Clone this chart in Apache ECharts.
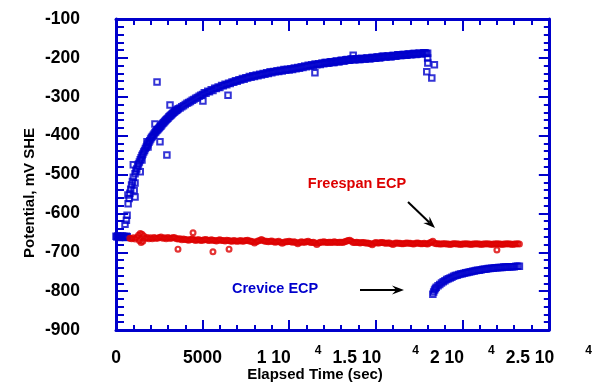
<!DOCTYPE html>
<html>
<head>
<meta charset="utf-8">
<script src="https://cdn.jsdelivr.net/npm/echarts@6/dist/echarts.min.js"></script>
<style>
html,body{margin:0;padding:0;background:#fff;}
#chart{width:595px;height:388px;}
</style>
</head>
<body>
<div id="chart"></div>
<script>
// ---------- data ----------
const xTickValues   = [0, 5000, 10000, 15000, 20000, 25000];
const xTickMantissa = ['0', '5000', '1 10', '1.5 10', '2 10', '2.5 10'];
const xTickExponent = ['', '', '4', '4', '4', '4'];

// Crevice ECP, first run [time s, potential mV SHE]
const creviceUpper = [
  [0,-659],[50,-661],[100,-658],[150,-660],[200,-662],[250,-659],[300,-660],[350,-658],[400,-661],[450,-659],[500,-660],[550,-662],[600,-659],[650,-660],
  [520,-628],[600,-618],[640,-605],[690,-553],[700,-575],[760,-562],[800,-548],[850,-538],[900,-527],[950,-518],[1000,-507],[1050,-541],[1100,-498],[1100,-558],[1100,-522],
  [1150,-491],[1200,-486],[1250,-479],[1300,-473],[1350,-468],[1400,-462],[1400,-493],[1450,-457],[1500,-451],[1500,-463],[1550,-447],[1600,-442],[1650,-438],[1700,-433],
  [1750,-429],[1790,-416],[1800,-425],[1850,-421],[1850,-429],[1900,-417],[1950,-413],[2000,-409],[2050,-405],[2100,-402],[2150,-399],[2200,-396],[2250,-392],[2300,-390],
  [2350,-387],[2400,-385],[2450,-382],[2500,-380],[2550,-377],[2600,-375],[2650,-372],[2700,-369],[2750,-367],[2800,-364],[2850,-362],[2900,-359],[2950,-357],[3000,-355],
  [3050,-352],[3100,-350],[3150,-348],[3200,-346],[3250,-344],[3300,-342],[3350,-340],[3400,-338],[3450,-336],[3500,-335],[3550,-333],[3600,-331],[3700,-329],[3800,-326],
  [3900,-323],[4000,-320],[4100,-317],[4200,-315],[4300,-312],[4400,-309],[4500,-307],[4600,-304],[4700,-302],[4800,-299],[4900,-296],[5000,-294],
  [5100,-290],[5200,-291],[5300,-286],[5400,-287],[5500,-282],[5600,-284],[5700,-278],[5800,-279],[5900,-275],[6000,-276],[6100,-271],[6200,-272],[6300,-268],[6400,-269],
  [6500,-265],[6600,-266],[6700,-262],[6800,-263],[6900,-259],[7000,-260],[7100,-256],[7200,-257],[7300,-253],[7400,-255],[7500,-251],[7600,-252],[7700,-248],[7800,-250],
  [7900,-246],[8000,-248],[8100,-244],[8200,-246],[8300,-242],[8400,-244],[8500,-240],[8600,-242],[8700,-238],[8800,-240],[8900,-236],[9000,-238],[9100,-235],[9200,-236],
  [9300,-233],[9400,-235],[9500,-232],[9600,-234],[9700,-230],[9800,-232],[9900,-229],[10000,-231],[10100,-228],[10200,-230],[10300,-226],[10400,-228],[10500,-225],
  [10600,-227],[10700,-223],[10800,-225],[10900,-221],[11000,-223],[11100,-219],[11200,-221],[11300,-218],[11400,-220],[11500,-216],[11600,-218],[11700,-215],[11800,-217],
  [11900,-213],[12000,-215],[12075,-212],[12150,-212],[12225,-214],[12300,-213],[12375,-210],[12450,-210],[12525,-212],[12600,-212],[12675,-209],[12750,-208],[12825,-210],
  [12900,-210],[12975,-207],[13050,-206],[13125,-208],[13200,-208],[13275,-205],[13350,-204],[13425,-206],[13500,-206],[13575,-203],[13650,-203],[13725,-205],[13800,-205],
  [13875,-202],[13950,-202],[14025,-204],[14100,-204],[14175,-201],[14250,-202],[14325,-203],[14400,-203],[14475,-200],[14550,-200],[14625,-202],[14700,-202],[14775,-199],
  [14850,-199],[14925,-201],[15000,-201],[15075,-198],[15150,-198],[15225,-200],[15300,-199],[15375,-196],[15450,-196],[15525,-198],[15600,-198],[15675,-195],[15750,-195],
  [15825,-197],[15900,-197],[15975,-194],[16050,-194],[16125,-196],[16200,-195],[16275,-192],[16350,-192],[16425,-194],[16500,-194],[16575,-191],[16650,-191],[16725,-193],
  [16800,-193],[16875,-190],[16950,-190],[17025,-192],[17100,-191],[17175,-189],[17250,-189],[17325,-191],[17400,-190],[17475,-188],[17550,-188],[17625,-190],[17700,-189],
  [17775,-187],[17850,-187],[17925,-189],[18000,-188],
  [18000,-200],[18010,-213],[18390,-218],[17950,-236],[18240,-252]
];
const creviceOutliers = [
  [1000,-475],[2250,-370],[2370,-262],[2540,-416],[2940,-450],[3120,-321],[5020,-311],[6470,-296],[11490,-238],[13700,-193]
];
// Crevice ECP, second run
const creviceLower = [
  [18300,-808],[18350,-802],[18400,-797],[18450,-793],[18500,-790],[18600,-786],[18700,-783],[18800,-779],[18900,-776],[19000,-773],[19100,-770],[19200,-768],
  [19300,-766],[19400,-764],[19500,-762],[19600,-760],[19700,-759],[19800,-757],[19900,-756],[20000,-755],[20100,-754],[20200,-753],[20300,-752],[20400,-751],
  [20500,-750],[20600,-749],[20700,-748],[20800,-747],[20900,-746],[21000,-746],[21100,-745],[21200,-744],[21300,-744],[21400,-743],[21500,-742],[21600,-742],
  [21700,-741],[21800,-741],[21900,-740],[22000,-740],[22100,-739],[22200,-739],[22300,-739],[22400,-738],[22500,-738],[22600,-738],[22700,-737],[22800,-737],
  [22900,-737],[23000,-737],[23100,-736],[23200,-736],[23300,-736]
];
// Freespan ECP
const freespan = [
  [800,-664],[900,-665],[1000,-663],[1100,-666],[1200,-662],[1300,-656],[1350,-670],[1400,-652],[1450,-675],[1500,-654],[1550,-672],[1600,-658],[1700,-664],[1800,-662],
  [1900,-665],[2000,-663],[2100,-665],[2200,-662],[2300,-664],[2400,-664],[2500,-662],[2600,-661],[2700,-664],[2800,-663],[2900,-665],[3000,-662],[3100,-664],[3200,-664],
  [3300,-662],[3400,-663],[3500,-665],[3600,-666],[3700,-665],[3800,-668],[3900,-666],[4000,-667],[4100,-668],[4200,-669],[4300,-667],[4400,-666],[4500,-668],[4600,-670],
  [4700,-668],[4800,-668],[4900,-670],[5000,-669],[5100,-668],[5200,-667],[5300,-669],[5400,-670],[5500,-668],[5600,-669],[5700,-670],[5800,-671],[5900,-669],[6000,-668],
  [6100,-670],[6200,-670],[6300,-671],[6400,-669],[6500,-670],[6600,-671],[6700,-672],[6800,-670],[6900,-671],[7000,-672],[7100,-671],[7200,-670],[7300,-672],[7400,-671],
  [7500,-670],[7600,-669],[7700,-671],[7800,-672],[7900,-673],[8000,-676],[8100,-673],[8200,-671],[8300,-670],[8400,-667],[8500,-670],[8600,-672],[8700,-672],[8800,-673],
  [8900,-672],[9000,-671],[9100,-673],[9200,-674],[9300,-673],[9400,-672],[9500,-674],[9600,-677],[9700,-674],[9800,-673],[9900,-673],[10000,-672],[10100,-673],[10200,-674],
  [10300,-673],[10400,-675],[10500,-678],[10600,-675],[10700,-673],[10800,-674],[10900,-674],[11000,-673],[11100,-672],[11200,-674],[11300,-675],[11400,-674],[11500,-676],
  [11600,-680],[11700,-676],[11800,-674],[11900,-674],[12000,-673],[12100,-674],[12200,-675],[12300,-674],[12400,-674],[12500,-675],[12600,-673],[12700,-674],[12800,-675],
  [12900,-674],[13000,-674],[13100,-675],[13200,-673],[13300,-672],[13400,-670],[13500,-669],[13600,-672],[13700,-675],[13800,-675],[13900,-674],[14000,-675],[14100,-676],
  [14200,-675],[14300,-675],[14400,-676],[14500,-676],[14600,-677],[14700,-678],[14800,-681],[14900,-677],[15000,-675],[15100,-676],[15200,-676],[15300,-675],[15400,-675],
  [15500,-676],[15600,-677],[15700,-676],[15800,-676],[15900,-678],[16000,-680],[16100,-677],[16200,-676],[16300,-677],[16400,-677],[16500,-678],[16600,-678],[16700,-677],
  [16800,-676],[16900,-677],[17000,-677],[17100,-678],[17200,-679],[17300,-677],[17400,-676],[17500,-677],[17600,-678],[17700,-678],[17800,-677],[17900,-678],[18000,-679],
  [18100,-676],[18200,-674],[18300,-672],[18400,-677],[18500,-678],[18600,-678],[18700,-679],[18800,-679],[18900,-678],[19000,-678],[19100,-679],[19200,-679],[19300,-680],
  [19400,-679],[19500,-678],[19600,-678],[19700,-679],[19800,-679],[19900,-680],[20000,-679],[20100,-679],[20200,-678],[20300,-679],[20400,-679],[20500,-680],[20600,-679],
  [20700,-679],[20800,-678],[20900,-679],[21000,-679],[21100,-680],[21200,-679],[21300,-679],[21400,-678],[21500,-679],[21600,-679],[21700,-680],[21800,-679],[21900,-679],
  [22000,-678],[22100,-679],[22200,-679],[22300,-680],[22400,-679],[22500,-679],[22600,-678],[22700,-679],[22800,-679],[22900,-680],[23000,-679],[23100,-679],[23200,-678],
  [23300,-679]
];
const freespanOutliers = [[3580,-692],[4450,-650],[5600,-699],[6530,-692],[22000,-694]];

// ---------- styling ----------
const FONT = "'Liberation Sans', Arial, Helvetica, sans-serif";
const BLUE = '#0000cc';
const RED = '#dd0000';

const chart = echarts.init(document.getElementById('chart'), null, {renderer: 'canvas'});

function axisBase(len, minorLen, showLabel) {
  return {
    type: 'value',
    axisLine: {show: true, onZero: false, lineStyle: {color: BLUE, width: 3}},
    axisTick: {show: true, inside: true, length: len, lineStyle: {color: BLUE, width: 2}},
    minorTick: {show: true, splitNumber: 5, length: minorLen, lineStyle: {color: BLUE, width: 2}},
    splitLine: {show: false},
    minorSplitLine: {show: false},
    axisLabel: {show: showLabel}
  };
}

function arrow(x1, y1, x2, y2) {
  const dx = x2 - x1, dy = y2 - y1, l = Math.hypot(dx, dy);
  const ux = dx / l, uy = dy / l, nx = -uy, ny = ux;
  const L = 12, W = 4.5;
  const bx = x2 - ux * L, by = y2 - uy * L;
  const mx = x2 - ux * L * 0.65, my = y2 - uy * L * 0.65;
  return [
    {type: 'line', shape: {x1: x1, y1: y1, x2: mx, y2: my}, style: {stroke: '#000', lineWidth: 2}},
    {type: 'polygon', shape: {points: [[x2, y2], [bx + nx * W, by + ny * W], [mx, my], [bx - nx * W, by - ny * W]]}, style: {fill: '#000'}}
  ];
}

const xBottom = Object.assign(axisBase(10, 5, true), {
  min: 0, max: 25000, interval: 5000, position: 'bottom',
  axisLabel: {
    show: true, margin: 15, showMinLabel: true, showMaxLabel: true,
    formatter: function (v) {
      const i = xTickValues.indexOf(v);
      if (i < 0) return '';
      const m = xTickMantissa[i], e = xTickExponent[i];
      if (!e) return '{n|' + m + '}';
      return '{n|' + m + '}{' + (m.length > 4 ? 'sw' : 's') + '|' + e + '}';
    },
    rich: {
      n: {fontFamily: FONT, fontWeight: 'bold', fontSize: 17.5, color: '#000', lineHeight: 26},
      s: {fontFamily: FONT, fontWeight: 'bold', fontSize: 12, color: '#000', lineHeight: 26, verticalAlign: 'top', padding: [0, 0, 0, 24]},
      sw: {fontFamily: FONT, fontWeight: 'bold', fontSize: 12, color: '#000', lineHeight: 26, verticalAlign: 'top', padding: [0, 0, 0, 31]}
    }
  }
});
const xTop = Object.assign(axisBase(12, 6, false), {min: 0, max: 25000, interval: 5000, position: 'top'});
const yLeft = Object.assign(axisBase(12, 8, true), {
  min: -900, max: -100, interval: 100, position: 'left',
  axisLabel: {show: true, margin: 36, fontFamily: FONT, fontWeight: 'bold', fontSize: 17.5, color: '#000'}
});
const yRight = Object.assign(axisBase(10, 5, false), {min: -900, max: -100, interval: 100, position: 'right'});

const squareStyle = {color: 'rgba(0,0,0,0)', borderColor: BLUE, borderWidth: 2};
const circleStyle = {color: 'rgba(0,0,0,0)', borderColor: RED, borderWidth: 2.2};

chart.setOption({
  animation: false,
  backgroundColor: '#ffffff',
  grid: {left: 116, right: 46, top: 19, bottom: 58, containLabel: false},
  xAxis: [xBottom, xTop],
  yAxis: [yLeft, yRight],
  series: [
    {type: 'scatter', xAxisIndex: 0, yAxisIndex: 0, symbol: 'rect', symbolSize: 5.5, silent: true,
     data: creviceUpper.concat(creviceOutliers), itemStyle: squareStyle},
    {type: 'scatter', xAxisIndex: 0, yAxisIndex: 0, symbol: 'rect', symbolSize: 5.5, silent: true,
     data: creviceLower, itemStyle: squareStyle},
    {type: 'scatter', xAxisIndex: 0, yAxisIndex: 0, symbol: 'circle', symbolSize: 4.8, silent: true,
     data: freespan.concat(freespanOutliers), itemStyle: circleStyle}
  ],
  graphic: [
    {type: 'text', x: 315, y: 375, style: {text: 'Elapsed Time (sec)', fill: '#000', font: 'bold 15px ' + FONT, textAlign: 'center', textVerticalAlign: 'middle'}},
    {type: 'text', x: 30, y: 193, rotation: Math.PI / 2, style: {text: 'Potential, mV SHE', fill: '#000', font: 'bold 15px ' + FONT, textAlign: 'center', textVerticalAlign: 'middle'}},
    {type: 'text', x: 357, y: 184, style: {text: 'Freespan ECP', fill: RED, font: 'bold 14.5px ' + FONT, textAlign: 'center', textVerticalAlign: 'middle'}},
    {type: 'text', x: 232, y: 289, style: {text: 'Crevice ECP', fill: BLUE, font: 'bold 14.5px ' + FONT, textAlign: 'left', textVerticalAlign: 'middle'}}
  ].concat(arrow(408, 202, 435, 228), arrow(360, 290, 404, 290))
});
</script>
</body>
</html>
